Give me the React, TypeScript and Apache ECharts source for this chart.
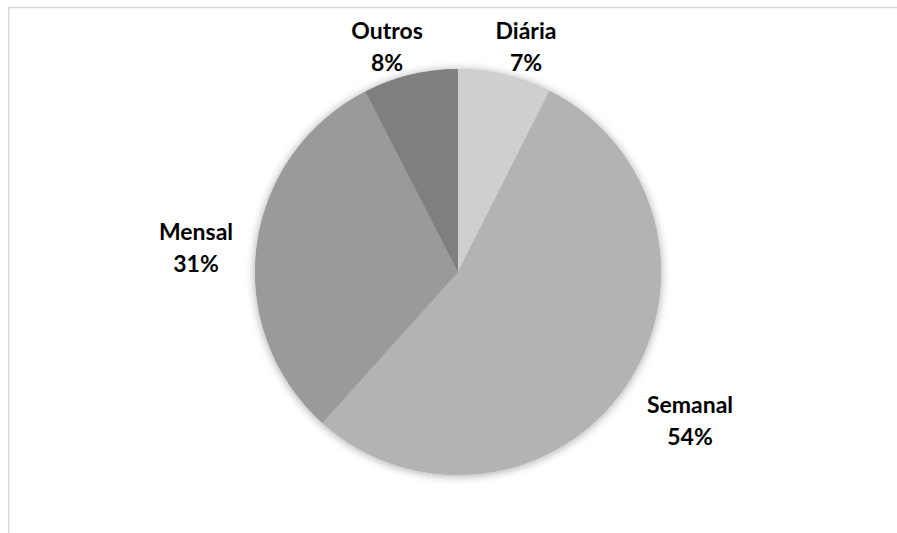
import React, { useEffect, useRef } from "react";
import * as echarts from "echarts";

const categories = ["Diária", "Semanal", "Mensal", "Outros"];
const values = [7.45, 54.2, 30.8, 7.55];
const colors = ["#cfcfcf", "#b3b3b3", "#9a9a9a", "#7f7f7f"];

// layout (px, page coordinates)
const CENTER = [458, 272];
const RADIUS = 203;
const LABEL_OFFSETS: [number, number][] = [
  [68, -226],
  [232, 148],
  [-262, -25],
  [-71, -226],
];

export default function App() {
  const ref = useRef<HTMLDivElement>(null);
  useEffect(() => {
    if (!ref.current) return;
    const chart = echarts.init(ref.current, null, { renderer: "svg" });
    chart.setOption({
      animation: false,
      backgroundColor: "#ffffff",
      graphic: [
        {
          type: "rect",
          shape: { x: 8.75, y: 7.5, width: 1200, height: 1200 },
          style: { fill: "none", stroke: "#d9d9d9", lineWidth: 1.5 },
          silent: true,
        },
      ],
      series: [
        {
          type: "pie",
          z: 1,
          silent: true,
          center: CENTER,
          radius: RADIUS,
          startAngle: 90,
          label: { show: false },
          labelLine: { show: false },
          itemStyle: {
            color: "#b3b3b3",
            shadowBlur: 10,
            shadowColor: "rgba(0,0,0,0.35)",
            shadowOffsetX: 0,
            shadowOffsetY: 1,
          },
          data: [{ value: 1, name: "" }],
        },
        {
          type: "pie",
          z: 2,
          center: CENTER,
          radius: RADIUS,
          startAngle: 90,
          clockwise: true,
          percentPrecision: 0,
          itemStyle: { borderWidth: 0 },
          label: {
            show: true,
            position: "outside",
            formatter: "{b}\n{d}%",
            fontFamily: "Lato, 'Open Sans', sans-serif",
            fontWeight: "bold",
            fontSize: 23,
            lineHeight: 32,
            color: "#000000",
            align: "center",
          },
          labelLine: { show: false },
          labelLayout: (params: any) => {
            const off = LABEL_OFFSETS[params.dataIndex];
            return {
              x: CENTER[0] + off[0],
              y: CENTER[1] + off[1],
              align: "center",
              verticalAlign: "middle",
            };
          },
          data: categories.map((name, i) => ({
            name,
            value: values[i],
            itemStyle: { color: colors[i] },
          })),
        },
      ],
    });
    return () => chart.dispose();
  }, []);
  return (
    <div
      ref={ref}
      style={{ position: "fixed", left: 0, top: 0, width: 897, height: 533 }}
    />
  );
}
